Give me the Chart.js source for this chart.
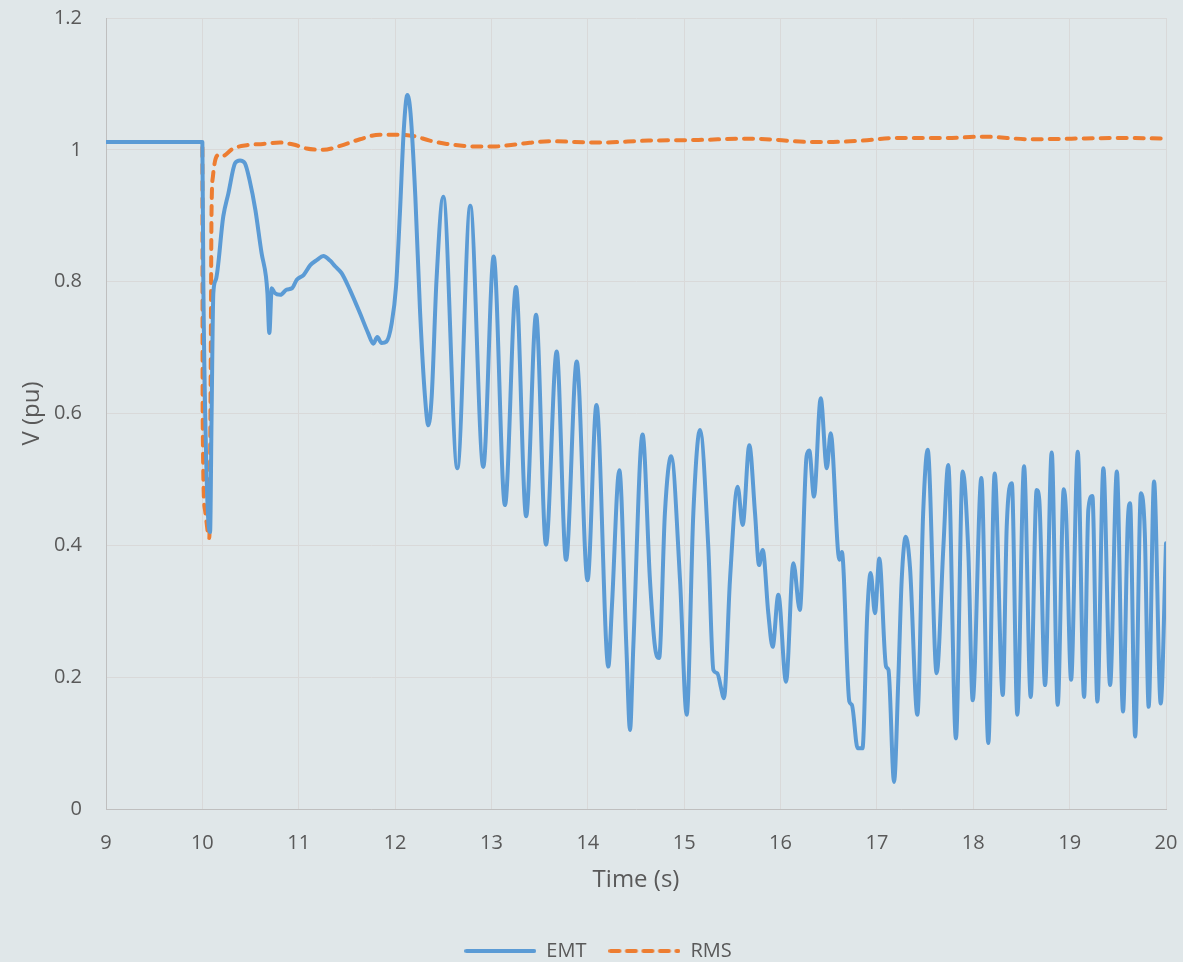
<!DOCTYPE html>
<html>
<head>
<meta charset="utf-8">
<script src="https://cdn.jsdelivr.net/npm/chart.js@4"></script>
<style>
  html, body { margin: 0; padding: 0; background: #E0E7E9; }
  #wrap { width: 1183px; height: 962px; position: relative; }
</style>
</head>
<body>
<div id="wrap"><canvas id="c"></canvas></div>
<script>
// ---- data ----
const emtTime = [9.0, 10.0, 10.01, 10.045, 10.08, 10.096, 10.114, 10.14, 10.217, 10.27, 10.34, 10.39, 10.44, 10.49, 10.55, 10.615, 10.66, 10.675, 10.695, 10.72, 10.75, 10.81, 10.875, 10.93, 10.98, 11.05, 11.12, 11.19, 11.255, 11.325, 11.38, 11.445, 11.53, 11.636, 11.72, 11.775, 11.815, 11.86, 11.91, 11.965, 12.01, 12.05, 12.09, 12.127, 12.16, 12.21, 12.26, 12.31, 12.345, 12.38, 12.43, 12.50, 12.646, 12.78, 12.915, 13.023, 13.14, 13.255, 13.36, 13.463, 13.566, 13.677, 13.774, 13.885, 13.997, 14.09, 14.213, 14.25, 14.327, 14.40, 14.438, 14.472, 14.568, 14.645, 14.697, 14.74, 14.80, 14.865, 14.957, 15.026, 15.095, 15.164, 15.25, 15.303, 15.344, 15.379, 15.413, 15.475, 15.555, 15.607, 15.676, 15.735, 15.777, 15.815, 15.873, 15.918, 15.977, 16.057, 16.133, 16.20, 16.27, 16.298, 16.347, 16.417, 16.48, 16.52, 16.611, 16.636, 16.714, 16.74, 16.80, 16.85, 16.90, 16.935, 16.98, 17.025, 17.095, 17.12, 17.178, 17.222, 17.257, 17.30, 17.344, 17.42, 17.48, 17.527, 17.62, 17.69, 17.74, 17.82, 17.89, 17.949, 17.994, 18.084, 18.156, 18.222, 18.306, 18.347, 18.40, 18.457, 18.527, 18.596, 18.658, 18.685, 18.745, 18.814, 18.876, 18.939, 18.963, 19.015, 19.084, 19.15, 19.194, 19.236, 19.288, 19.35, 19.42, 19.49, 19.554, 19.603, 19.627, 19.68, 19.74, 19.78, 19.82, 19.876, 19.945, 20.0];
const emtVolt = [1.012, 1.012, 0.80, 0.50, 0.42, 0.60, 0.783, 0.803, 0.899, 0.934, 0.980, 0.984, 0.980, 0.954, 0.909, 0.843, 0.808, 0.783, 0.722, 0.79, 0.783, 0.78, 0.788, 0.79, 0.803, 0.81, 0.825, 0.833, 0.839, 0.832, 0.823, 0.813, 0.788, 0.752, 0.722, 0.706, 0.716, 0.707, 0.709, 0.737, 0.793, 0.904, 1.030, 1.083, 1.056, 0.929, 0.752, 0.626, 0.582, 0.626, 0.803, 0.929, 0.517, 0.915, 0.519, 0.838, 0.461, 0.792, 0.444, 0.750, 0.401, 0.694, 0.378, 0.679, 0.347, 0.613, 0.216, 0.307, 0.514, 0.246, 0.120, 0.246, 0.568, 0.347, 0.246, 0.229, 0.449, 0.535, 0.347, 0.143, 0.449, 0.575, 0.398, 0.211, 0.206, 0.186, 0.168, 0.347, 0.489, 0.431, 0.552, 0.449, 0.370, 0.393, 0.297, 0.246, 0.325, 0.193, 0.373, 0.302, 0.535, 0.544, 0.474, 0.623, 0.517, 0.570, 0.378, 0.390, 0.163, 0.158, 0.092, 0.092, 0.297, 0.358, 0.297, 0.380, 0.216, 0.211, 0.041, 0.196, 0.347, 0.413, 0.365, 0.143, 0.449, 0.545, 0.206, 0.398, 0.522, 0.107, 0.512, 0.388, 0.165, 0.502, 0.100, 0.509, 0.173, 0.428, 0.494, 0.143, 0.520, 0.170, 0.484, 0.469, 0.188, 0.541, 0.158, 0.485, 0.449, 0.196, 0.542, 0.170, 0.454, 0.475, 0.163, 0.517, 0.188, 0.512, 0.148, 0.434, 0.464, 0.110, 0.479, 0.419, 0.155, 0.497, 0.160, 0.403];

const rmsTime = [9.0, 10.0, 10.003, 10.027, 10.072, 10.086, 10.095, 10.11, 10.165, 10.2, 10.32, 10.46, 10.63, 10.805, 10.945, 11.08, 11.255, 11.43, 11.636, 11.84, 12.017, 12.19, 12.36, 12.535, 12.877, 13.02, 13.3, 13.6, 14.12, 14.63, 15.15, 15.66, 15.97, 16.285, 16.545, 16.85, 17.21, 17.73, 18.09, 18.61, 19.02, 19.54, 20.0];
const rmsVolt = [1.012, 1.012, 0.60, 0.454, 0.411, 0.651, 0.904, 0.96, 0.992, 0.99, 1.002, 1.007, 1.009, 1.011, 1.008, 1.002, 1.000, 1.006, 1.016, 1.023, 1.023, 1.021, 1.014, 1.009, 1.005, 1.005, 1.009, 1.013, 1.011, 1.014, 1.015, 1.017, 1.015, 1.012, 1.012, 1.014, 1.018, 1.018, 1.020, 1.016, 1.017, 1.018, 1.017];

const seriesNames = ['EMT', 'RMS'];
const xAxisTitle = 'Time (s)';
const yAxisTitle = 'V (pu)';

const toPoints = (xs, ys) => xs.map((x, i) => ({ x: x, y: ys[i] }));

const FONT = '"Open Sans", "DejaVu Sans", sans-serif';
const TXT = '#595959';
const BLUE = '#5B9BD5';
const ORANGE = '#ED7D31';

// legend line samples (solid / dashed), used as point-style images
function legendSample(color, dash) {
  const cv = document.createElement('canvas');
  cv.width = 72; cv.height = 8;
  const g = cv.getContext('2d');
  g.strokeStyle = color;
  g.lineWidth = 4;
  g.lineCap = 'round';
  if (dash) g.setLineDash(dash);
  g.beginPath();
  g.moveTo(2, 4);
  g.lineTo(70, 4);
  g.stroke();
  return cv;
}

new Chart(document.getElementById('c'), {
  type: 'line',
  data: {
    datasets: [
      {
        label: seriesNames[0],
        data: toPoints(emtTime, emtVolt),
        borderColor: BLUE,
        backgroundColor: BLUE,
        borderWidth: 4,
        pointRadius: 0,
        pointStyle: legendSample(BLUE, null),
        cubicInterpolationMode: 'monotone',
        borderJoinStyle: 'round',
        borderCapStyle: 'round',
        fill: false
      },
      {
        label: seriesNames[1],
        data: toPoints(rmsTime, rmsVolt),
        borderColor: ORANGE,
        backgroundColor: ORANGE,
        borderWidth: 4,
        borderDash: [9, 8],
        borderCapStyle: 'round',
        borderJoinStyle: 'round',
        pointRadius: 0,
        pointStyle: legendSample(ORANGE, [9, 7.5]),
        cubicInterpolationMode: 'monotone',
        fill: false
      }
    ]
  },
  options: {
    responsive: true,
    maintainAspectRatio: false,
    animation: false,
    devicePixelRatio: 1,
    layout: { padding: { top: 0, right: 0, bottom: -9, left: 13 } },
    plugins: {
      tooltip: { enabled: false },
      legend: {
        position: 'bottom',
        labels: {
          usePointStyle: true,
          pointStyleWidth: 72,
          padding: 22,
          color: TXT,
          font: { family: FONT, size: 20 }
        }
      }
    },
    scales: {
      x: {
        type: 'linear',
        min: 9,
        max: 20,
        afterFit: s => { s.height = 110; s.paddingLeft = 0; s.paddingRight = 17; },
        ticks: { stepSize: 1, padding: 22, color: TXT, font: { family: FONT, size: 20 } },
        grid: { color: '#D9D9D9', lineWidth: 1, drawTicks: false },
        border: { color: '#BFBFBF', width: 1 },
        title: { display: true, text: xAxisTitle, color: TXT, font: { family: FONT, size: 24 }, padding: { top: 0, bottom: 24 } }
      },
      y: {
        type: 'linear',
        min: 0,
        max: 1.2,
        afterFit: s => { s.width = 93; s.paddingTop = 18; s.paddingBottom = 0; },
        ticks: {
          stepSize: 0.2, padding: 24, color: TXT, font: { family: FONT, size: 20 },
          callback: v => String(Number(v.toFixed(1)))
        },
        grid: { color: '#D9D9D9', lineWidth: 1, drawTicks: false },
        border: { color: '#BFBFBF', width: 1 },
        title: { display: true, text: yAxisTitle, color: TXT, font: { family: FONT, size: 24 }, padding: { top: 5, bottom: 0 } }
      }
    }
  }
});
</script>
</body>
</html>
